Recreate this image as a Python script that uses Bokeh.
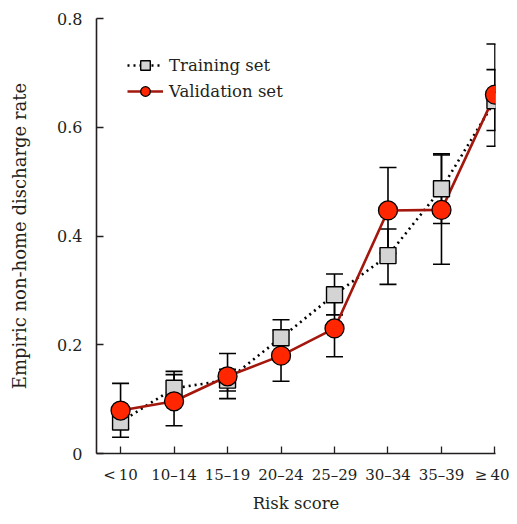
from bokeh.plotting import figure
from bokeh.models import ColumnDataSource, Whisker, TeeHead, FixedTicker, Range1d, Legend, LegendItem
from bokeh.embed import file_html
from bokeh.resources import INLINE

categories = ["<\u200910", "10\u201314", "15\u201319", "20\u201324", "25\u201329", "30\u201334", "35\u201339", "\u2265\u200940"]
train_rate = [0.058, 0.120, 0.135, 0.213, 0.292, 0.364, 0.487, 0.649]
train_lower = [0.045, 0.095, 0.115, 0.180, 0.255, 0.311, 0.423, 0.594]
train_upper = [0.071, 0.145, 0.155, 0.246, 0.330, 0.413, 0.551, 0.706]
valid_rate = [0.079, 0.096, 0.142, 0.180, 0.230, 0.447, 0.448, 0.660]
valid_lower = [0.030, 0.051, 0.101, 0.133, 0.178, 0.368, 0.348, 0.565]
valid_upper = [0.129, 0.151, 0.184, 0.227, 0.282, 0.526, 0.549, 0.753]
y_ticks = [0, 0.2, 0.4, 0.6, 0.8]
y_tick_labels = ["0", "0.2", "0.4", "0.6", "0.8"]

FONT = "DejaVu Serif"
xs = list(range(len(categories)))

train = ColumnDataSource(dict(x=xs, y=train_rate, lo=train_lower, hi=train_upper))
valid = ColumnDataSource(dict(x=xs, y=valid_rate, lo=valid_lower, hi=valid_upper))

p = figure(width=509, height=515, output_backend="svg", toolbar_location=None,
           x_range=Range1d(-0.45, 7.01), y_range=Range1d(0, 0.8),
           min_border_left=96, min_border_right=14, min_border_top=18, min_border_bottom=60)
p.outline_line_color = None
p.grid.visible = False
p.background_fill_color = "white"
p.border_fill_color = "white"

for src in (train, valid):
    w = Whisker(source=src, base="x", lower="lo", upper="hi",
                line_color="black", line_width=1.6,
                lower_head=TeeHead(size=17, line_color="black", line_width=1.6),
                upper_head=TeeHead(size=17, line_color="black", line_width=1.6))
    p.add_layout(w)

tl = p.line("x", "y", source=train, line_color="black", line_width=2.6, line_dash="2 4")
vl = p.line("x", "y", source=valid, line_color="#a3170c", line_width=2.6)
ts = p.scatter("x", "y", source=train, marker="square", size=16,
               fill_color="#d4d4d4", line_color="black", line_width=1.4)
vs = p.scatter("x", "y", source=valid, marker="circle", size=19,
               fill_color="#ff2600", line_color="black", line_width=1.3)

legend = Legend(items=[LegendItem(label="Training set", renderers=[tl, ts]),
                       LegendItem(label="Validation set", renderers=[vl, vs])],
                location=(31, 350), border_line_color=None, background_fill_alpha=0,
                padding=0, spacing=2, glyph_width=36, glyph_height=24, label_height=24,
                label_standoff=6, label_text_font=FONT, label_text_font_size="16.5px",
                label_text_color="#231f20")
p.add_layout(legend)

xa = p.xaxis[0]
xa.ticker = FixedTicker(ticks=xs)
xa.major_label_overrides = {i: c for i, c in enumerate(categories)}
xa.axis_label = "Risk score"
ya = p.yaxis[0]
ya.ticker = FixedTicker(ticks=y_ticks)
ya.major_label_overrides = {t: l for t, l in zip(y_ticks, y_tick_labels)}
ya.axis_label = "Empiric non-home discharge rate"

for ax in (xa, ya):
    ax.major_tick_in = 7
    ax.major_tick_out = 0
    ax.minor_tick_in = 0
    ax.minor_tick_out = 0
    ax.axis_line_color = "#231f20"
    ax.axis_line_width = 1.6
    ax.major_tick_line_color = "#231f20"
    ax.major_tick_line_width = 1.3
    ax.major_label_text_font = FONT
    ax.axis_label_text_font = FONT
    ax.axis_label_text_font_style = "normal"
    ax.major_label_text_color = "#231f20"
    ax.axis_label_text_color = "#231f20"

xa.major_label_text_font_size = "15px"
xa.axis_label_text_font_size = "16.5px"
xa.major_label_standoff = 12
xa.axis_label_standoff = 7
ya.major_label_text_font_size = "16px"
ya.axis_label_text_font_size = "18px"
ya.major_label_standoff = 14
ya.axis_label_standoff = 24

open("out.html", "w").write(file_html(p, INLINE))
